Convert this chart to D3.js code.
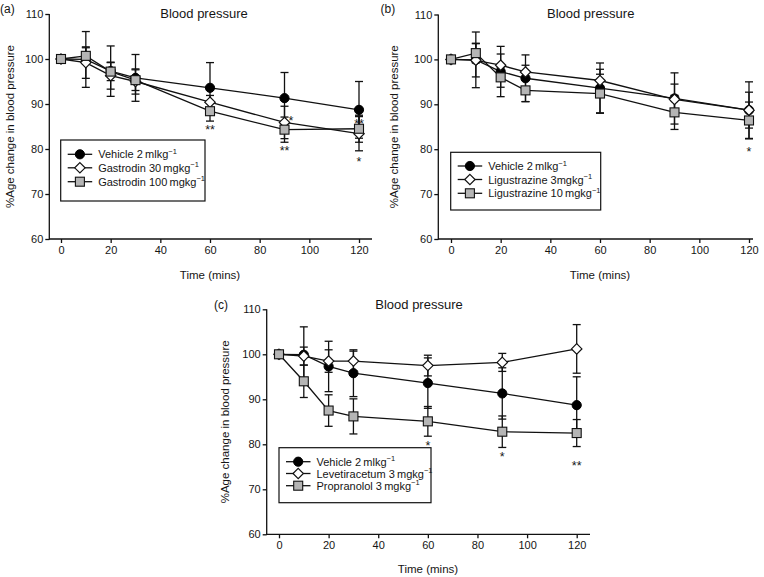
<!DOCTYPE html>
<html><head><meta charset="utf-8">
<script src="https://cdn.jsdelivr.net/npm/d3@7"></script>
<style>
body{margin:0;background:#fff}
svg{display:block}
text{font-family:"Liberation Sans",Arial,sans-serif;fill:#151515}
</style>
</head><body>
<svg id="chart" width="764" height="577"></svg>
<script>
// ---------- data ----------
const times = [0, 10, 20, 30, 60, 90, 120];
const xTicks = [0, 20, 40, 60, 80, 100, 120];
const yTicks = [60, 70, 80, 90, 100, 110];
const panelTitle = "Blood pressure";
const xTitle = "Time (mins)";
const yTitle = "%Age change in blood pressure";

const vehicleMean = [100, 99.9, 97.3, 95.8, 93.6, 91.3, 88.7];
const vehicleErr  = [0, 6.2, 5.6, 5.2, 5.6, 5.7, 6.3];

const gastrodin30Mean  = [100, 99.2, 96.3, 95.0, 90.4, 85.9, 83.4];
const gastrodin30Err   = [0, 3.5, 3.0, 2.8, 1.5, 3.6, 3.8];
const gastrodin100Mean = [100, 100.7, 97.2, 95.3, 88.4, 84.3, 84.5];
const gastrodin100Err  = [0, 1.8, 2.0, 2.3, 2.2, 2.8, 3.0];

const ligustrazine3Mean  = [100, 99.8, 98.7, 97.2, 95.3, 91.1, 88.7];
const ligustrazine3Err   = [0, 3.7, 2.5, 1.5, 2.5, 3.4, 4.0];
const ligustrazine10Mean = [100, 101.4, 96.0, 93.1, 92.4, 88.2, 86.4];
const ligustrazine10Err  = [0, 2.2, 2.2, 2.5, 4.3, 3.8, 4.1];

const levetiracetamMean = [100, 99.6, 98.5, 98.5, 97.5, 98.2, 101.2];
const levetiracetamErr  = [0, 2.0, 2.5, 2.2, 2.3, 2.0, 5.4];
const propranololMean   = [100, 94.0, 87.5, 86.2, 85.1, 82.8, 82.5];
const propranololErr    = [0, 3.6, 3.5, 3.9, 3.3, 3.5, 3.0];

const starsA = [
  {t: 60, v: 84.8, s: "**"}, {t: 92.6, v: 86.9, s: "*"}, {t: 90, v: 80.3, s: "**"},
  {t: 120, v: 86.3, s: "**"}, {t: 120, v: 77.8, s: "*"}
];
const starsB = [{t: 120, v: 80.0, s: "*"}];
const starsC = [{t: 60, v: 80.4, s: "*"}, {t: 90, v: 77.8, s: "*"}, {t: 120, v: 75.9, s: "**"}];

// ---------- layout ----------
const panels = [
  {
    label: "(a)",
    series: [
      {name: "Vehicle 2\u2009mlkg", mean: vehicleMean, err: vehicleErr, shape: "circle"},
      {name: "Gastrodin 30\u2009mgkg", mean: gastrodin30Mean, err: gastrodin30Err, shape: "diamond"},
      {name: "Gastrodin 100\u2009mgkg", mean: gastrodin100Mean, err: gastrodin100Err, shape: "square"}
    ],
    stars: starsA,
    L: {axisX: 49.3, x0: 61, x1: 359, yTop: 14, yBot: 239, xEnd: 372,
        labelX: 0, labelY: 13, titleX: 204, titleY: 17.5, xTitleX: 210, xTitleY: 279, yTitleX: 13.5,
        leg: {x: 60.7, y: 140, w: 144.3, h: 61, rows: [154.3, 167.8, 181.7]}}
  },
  {
    label: "(b)",
    series: [
      {name: "Vehicle 2\u2009mlkg", mean: vehicleMean, err: vehicleErr, shape: "circle"},
      {name: "Ligustrazine 3mgkg", mean: ligustrazine3Mean, err: ligustrazine3Err, shape: "diamond"},
      {name: "Ligustrazine 10\u2009mgkg", mean: ligustrazine10Mean, err: ligustrazine10Err, shape: "square"}
    ],
    stars: starsB,
    L: {axisX: 438.3, x0: 451, x1: 749, yTop: 14.5, yBot: 239, xEnd: 753,
        labelX: 380.5, labelY: 13, titleX: 590.7, titleY: 17.5, xTitleX: 600, xTitleY: 279, yTitleX: 398.3,
        leg: {x: 450.7, y: 152.3, w: 150, h: 57.7, rows: [166, 179.5, 193.3]}}
  },
  {
    label: "(c)",
    series: [
      {name: "Vehicle 2\u2009mlkg", mean: vehicleMean, err: vehicleErr, shape: "circle"},
      {name: "Levetiracetum 3\u2009mgkg", mean: levetiracetamMean, err: levetiracetamErr, shape: "diamond"},
      {name: "Propranolol 3\u2009mgkg", mean: propranololMean, err: propranololErr, shape: "square"}
    ],
    stars: starsC,
    L: {axisX: 266.7, x0: 279, x1: 576.7, yTop: 309.3, yBot: 534.3, xEnd: 590,
        labelX: 214, labelY: 309, titleX: 419, titleY: 308.5, xTitleX: 428, xTitleY: 573, yTitleX: 228.5,
        leg: {x: 279, y: 447.7, w: 152, h: 55, rows: [461.7, 473.5, 485.7]}}
  }
];

const svg = d3.select("#chart");
const SW = 1.3;
const fills = {circle: "#000", diamond: "#fff", square: "#b5b5b5"};

function drawMarker(g, shape, cx, cy) {
  if (shape === "circle") {
    g.append("circle").attr("cx", cx).attr("cy", cy).attr("r", 4.6)
      .attr("fill", fills.circle).attr("stroke", "#000").attr("stroke-width", 1);
  } else if (shape === "square") {
    g.append("rect").attr("x", cx - 4.5).attr("y", cy - 4.5).attr("width", 9).attr("height", 9)
      .attr("fill", fills.square).attr("stroke", "#111").attr("stroke-width", 1.1);
  } else {
    const r = 5.2;
    g.append("path").attr("d", `M${cx},${cy - r}L${cx + r},${cy}L${cx},${cy + r}L${cx - r},${cy}Z`)
      .attr("fill", fills.diamond).attr("stroke", "#111").attr("stroke-width", 1.2);
  }
}

panels.forEach(p => {
  const L = p.L;
  const x = d3.scaleLinear().domain([0, 120]).range([L.x0, L.x1]);
  const y = d3.scaleLinear().domain([60, 110]).range([L.yBot, L.yTop]);
  const g = svg.append("g");

  // axes
  const ya = g.append("g").attr("transform", `translate(${L.axisX},0)`)
    .call(d3.axisLeft(y).tickValues(yTicks).tickSize(4).tickPadding(2).tickSizeOuter(0));
  const xa = g.append("g").attr("transform", `translate(0,${L.yBot})`)
    .call(d3.axisBottom(x).tickValues(xTicks).tickSize(4).tickPadding(3).tickSizeOuter(0));
  [ya, xa].forEach(a => {
    a.select(".domain").remove();
    a.selectAll("line").attr("stroke", "#111").attr("stroke-width", SW);
    a.selectAll("text").attr("font-size", 11).attr("fill", "#151515")
      .attr("font-family", '"Liberation Sans",Arial,sans-serif');
  });
  g.append("line").attr("x1", L.axisX).attr("x2", L.axisX).attr("y1", y(110)).attr("y2", L.yBot + SW / 2)
    .attr("stroke", "#111").attr("stroke-width", SW);
  g.append("line").attr("x1", L.axisX).attr("x2", L.xEnd).attr("y1", L.yBot).attr("y2", L.yBot)
    .attr("stroke", "#111").attr("stroke-width", SW);

  // texts
  g.append("text").attr("x", L.labelX).attr("y", L.labelY).attr("font-size", 12).text(p.label);
  g.append("text").attr("x", L.titleX).attr("y", L.titleY).attr("font-size", 13)
    .attr("text-anchor", "middle").text(panelTitle);
  g.append("text").attr("x", L.xTitleX).attr("y", L.xTitleY).attr("font-size", 11.5)
    .attr("text-anchor", "middle").text(xTitle);
  g.append("text").attr("transform", `translate(${L.yTitleX},${(L.yTop + L.yBot) / 2}) rotate(-90)`)
    .attr("font-size", 11.5).attr("text-anchor", "middle").text(yTitle);

  // error bars
  const eb = g.append("g").attr("stroke", "#111").attr("stroke-width", SW);
  p.series.forEach(s => {
    times.forEach((t, i) => {
      const e = s.err[i];
      if (!e) return;
      const cx = x(t), hi = y(s.mean[i] + e), lo = y(s.mean[i] - e);
      eb.append("line").attr("x1", cx).attr("x2", cx).attr("y1", hi).attr("y2", lo);
      eb.append("line").attr("x1", cx - 4).attr("x2", cx + 4).attr("y1", hi).attr("y2", hi);
      eb.append("line").attr("x1", cx - 4).attr("x2", cx + 4).attr("y1", lo).attr("y2", lo);
    });
  });

  // lines
  const line = d3.line().x((d, i) => x(times[i])).y(d => y(d));
  p.series.forEach(s => {
    g.append("path").attr("d", line(s.mean)).attr("fill", "none")
      .attr("stroke", "#111").attr("stroke-width", SW);
  });

  // markers
  p.series.forEach(s => {
    const mg = g.append("g");
    times.forEach((t, i) => drawMarker(mg, s.shape, x(t), y(s.mean[i])));
  });

  // significance stars
  p.stars.forEach(st => {
    g.append("text").attr("x", x(st.t)).attr("y", y(st.v) + 7).attr("font-size", 12.5)
      .attr("text-anchor", "middle").text(st.s);
  });

  // legend
  const lg = L.leg;
  const leg = g.append("g");
  leg.append("rect").attr("x", lg.x).attr("y", lg.y).attr("width", lg.w).attr("height", lg.h)
    .attr("fill", "#fff").attr("stroke", "#111").attr("stroke-width", 1.2);
  p.series.forEach((s, i) => {
    const ry = lg.rows[i];
    leg.append("line").attr("x1", lg.x + 7).attr("x2", lg.x + 31.5).attr("y1", ry).attr("y2", ry)
      .attr("stroke", "#111").attr("stroke-width", SW);
    drawMarker(leg, s.shape, lg.x + 19.2, ry);
    const tx = leg.append("text").attr("x", lg.x + 37.5).attr("y", ry + 4).attr("font-size", 11);
    tx.append("tspan").text(s.name);
    tx.append("tspan").attr("dy", -4.5).attr("font-size", 7.5).text("\u22121");
  });
});
</script>
</body></html>
